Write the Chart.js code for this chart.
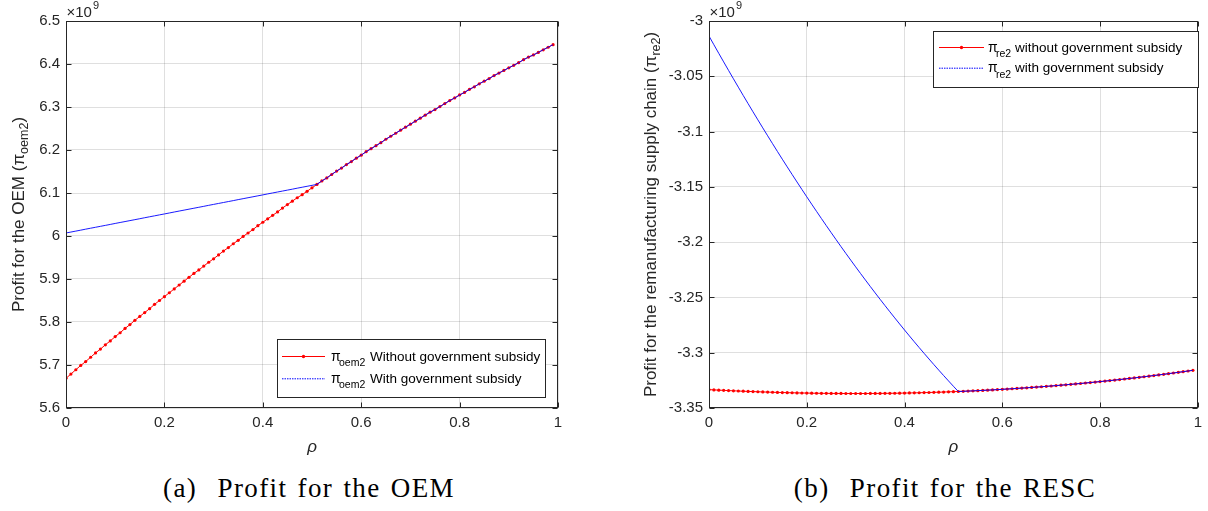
<!DOCTYPE html>
<html><head><meta charset="utf-8">
<script src="https://cdn.jsdelivr.net/npm/chart.js@4"></script>
<style>
html,body{margin:0;padding:0;background:#fff;width:1208px;height:511px;overflow:hidden;}
#wrapA{position:absolute;left:0;top:0;width:604px;height:465px;}
#wrapB{position:absolute;left:604px;top:0;width:604px;height:465px;}
.cap{position:absolute;top:473px;font-family:"Liberation Serif","Times New Roman",serif;font-size:27px;white-space:nowrap;color:#000;transform:translateX(-50%);letter-spacing:1.4px;word-spacing:2px;}
</style></head><body>
<div id="wrapA"><canvas id="cA" width="604" height="465"></canvas></div>
<div id="wrapB"><canvas id="cB" width="604" height="465"></canvas></div>
<div class="cap" style="left:309px;">(a)&nbsp; Profit for the OEM</div>
<div class="cap" style="left:945px;">(b)&nbsp; Profit for the RESC</div>
<script>
// rho values (x axis)
const rho = [0,0.01,0.02,0.03,0.04,0.05,0.06,0.07,0.08,0.09,
0.10,0.11,0.12,0.13,0.14,0.15,0.16,0.17,0.18,0.19,
0.20,0.21,0.22,0.23,0.24,0.25,0.26,0.27,0.28,0.29,
0.30,0.31,0.32,0.33,0.34,0.35,0.36,0.37,0.38,0.39,
0.40,0.41,0.42,0.43,0.44,0.45,0.46,0.47,0.48,0.49,
0.50,0.51,0.52,0.53,0.54,0.55,0.56,0.57,0.58,0.59,
0.60,0.61,0.62,0.63,0.64,0.65,0.66,0.67,0.68,0.69,
0.70,0.71,0.72,0.73,0.74,0.75,0.76,0.77,0.78,0.79,
0.80,0.81,0.82,0.83,0.84,0.85,0.86,0.87,0.88,0.89,
0.90,0.91,0.92,0.93,0.94,0.95,0.96,0.97,0.98,0.99];

// (a) OEM profit, x10^9, without subsidy
const oemWithout = [5.669,5.679,5.689,5.699,5.708,5.718,5.728,5.737,5.747,5.756,
5.766,5.775,5.785,5.794,5.804,5.813,5.822,5.831,5.841,5.850,
5.859,5.868,5.877,5.886,5.895,5.904,5.913,5.921,5.930,5.939,
5.947,5.956,5.965,5.973,5.982,5.990,5.999,6.007,6.015,6.024,
6.032,6.040,6.048,6.056,6.065,6.073,6.081,6.089,6.096,6.104,
6.112,6.120,6.128,6.135,6.143,6.151,6.158,6.166,6.173,6.181,
6.188,6.196,6.203,6.210,6.217,6.225,6.232,6.239,6.246,6.253,
6.260,6.267,6.274,6.281,6.288,6.294,6.301,6.308,6.315,6.321,
6.328,6.334,6.341,6.347,6.354,6.360,6.366,6.373,6.379,6.385,
6.391,6.397,6.403,6.410,6.416,6.421,6.427,6.433,6.439,6.445];
// with subsidy, for rho = 0 .. 0.50 (afterwards equal to the curve without subsidy)
const oemWithLow = [6.0070,6.0092,6.0114,6.0136,6.0159,6.0181,6.0203,6.0225,6.0247,6.0269,
6.0292,6.0314,6.0336,6.0358,6.0380,6.0402,6.0425,6.0447,6.0469,6.0491,
6.0513,6.0535,6.0558,6.0580,6.0602,6.0624,6.0646,6.0668,6.0690,6.0713,
6.0735,6.0757,6.0779,6.0801,6.0823,6.0846,6.0868,6.0890,6.0912,6.0934,
6.0956,6.0979,6.1001,6.1023,6.1045,6.1067,6.1089,6.1112,6.1134,6.1156,
6.1178];

// (b) RESC profit, x10^9, without subsidy
const rescWithout = [-3.33340,-3.33362,-3.33384,-3.33405,-3.33426,-3.33445,-3.33464,-3.33482,-3.33500,-3.33516,
-3.33532,-3.33548,-3.33562,-3.33576,-3.33589,-3.33601,-3.33612,-3.33623,-3.33633,-3.33642,
-3.33650,-3.33658,-3.33664,-3.33670,-3.33676,-3.33680,-3.33684,-3.33686,-3.33688,-3.33690,
-3.33690,-3.33690,-3.33688,-3.33686,-3.33683,-3.33680,-3.33675,-3.33670,-3.33664,-3.33657,
-3.33649,-3.33640,-3.33631,-3.33620,-3.33609,-3.33597,-3.33584,-3.33570,-3.33556,-3.33540,
-3.33524,-3.33507,-3.33489,-3.33470,-3.33450,-3.33429,-3.33407,-3.33385,-3.33361,-3.33337,
-3.33312,-3.33285,-3.33258,-3.33230,-3.33201,-3.33172,-3.33141,-3.33109,-3.33077,-3.33043,
-3.33009,-3.32973,-3.32937,-3.32900,-3.32862,-3.32822,-3.32782,-3.32741,-3.32699,-3.32656,
-3.32612,-3.32567,-3.32522,-3.32475,-3.32427,-3.32378,-3.32328,-3.32277,-3.32226,-3.32173,
-3.32119,-3.32064,-3.32009,-3.31952,-3.31894,-3.31835,-3.31776,-3.31715,-3.31653,-3.31590];
// with subsidy, rho = 0 .. 0.50
const rescWithLow = [-3.01360,-3.02146,-3.02926,-3.03700,-3.04468,-3.05229,-3.05984,-3.06733,-3.07475,-3.08212,
-3.08942,-3.09666,-3.10383,-3.11095,-3.11800,-3.12499,-3.13192,-3.13878,-3.14558,-3.15232,
-3.15900,-3.16562,-3.17217,-3.17866,-3.18509,-3.19145,-3.19776,-3.20400,-3.21018,-3.21629,
-3.22235,-3.22834,-3.23427,-3.24013,-3.24594,-3.25168,-3.25736,-3.26298,-3.26853,-3.27403,
-3.27946,-3.28482,-3.29013,-3.29537,-3.30055,-3.30567,-3.31073,-3.31572,-3.32065,-3.32552,
-3.33033];

const oemWith = oemWithLow.concat(oemWithout.slice(oemWithLow.length));
const rescWith = rescWithLow.concat(rescWithout.slice(rescWithLow.length));

const xTicks = [0, 0.2, 0.4, 0.6, 0.8, 1];
const oemTicks = [5.6, 6.5, 0.1];      // min, max, step
const rescTicks = [-3.35, -3.0, 0.05]; // min, max, step

const SANS = '"Liberation Sans", Arial, Helvetica, sans-serif';
const AX = '#262626';
const GRID = 'rgba(38,38,38,0.15)';

function pts(ys){ return rho.map((x,i)=>({x:x, y:ys[i]})); }

function makeDeco(opt){
  return {
    id: 'deco',
    afterDraw(chart){
      const ctx = chart.ctx, a = chart.chartArea;
      const xs = chart.scales.x, ys = chart.scales.y;
      ctx.save();
      // box
      ctx.strokeStyle = AX; ctx.lineWidth = 1;
      const L = Math.round(a.left)+0.5, R = Math.round(a.right)-0.5, T = Math.round(a.top)+0.5, B = Math.round(a.bottom)-0.5;
      ctx.strokeRect(L, T, R-L, B-T);
      // inward ticks
      ctx.beginPath();
      xs.ticks.forEach(t=>{ const p = Math.round(xs.getPixelForValue(t.value))+0.5;
        ctx.moveTo(p,B); ctx.lineTo(p,B-5); ctx.moveTo(p,T); ctx.lineTo(p,T+5); });
      ys.ticks.forEach(t=>{ const p = Math.round(ys.getPixelForValue(t.value))+0.5;
        ctx.moveTo(L,p); ctx.lineTo(L+5,p); ctx.moveTo(R,p); ctx.lineTo(R-5,p); });
      ctx.stroke();
      // x10^9
      ctx.fillStyle = AX; ctx.textBaseline = 'alphabetic'; ctx.textAlign = 'left';
      ctx.font = '15px ' + SANS;
      ctx.fillText('\u00d710', a.left + 0.5, a.top - 4.5);
      const w10 = ctx.measureText('\u00d710').width;
      ctx.font = '11px ' + SANS;
      ctx.fillText('9', a.left + 1.5 + w10, a.top - 12);
      // x title
      ctx.font = 'italic 17px ' + SANS; ctx.textAlign = 'center';
      ctx.fillText('\u03c1', (a.left + a.right)/2, 452);
      // y title (rotated)
      ctx.save();
      ctx.translate(opt.ytitleX, (a.top + a.bottom)/2);
      ctx.rotate(-Math.PI/2);
      ctx.textAlign = 'left';
      const f1 = '17px ' + SANS, f2 = '12.5px ' + SANS;
      ctx.font = f1; const wa = ctx.measureText(opt.ytitle + '(\u03c0').width;
      ctx.font = f2; const wb = ctx.measureText(opt.ysub).width;
      ctx.font = f1; const wc = ctx.measureText(')').width;
      let x0 = -(wa + wb + wc)/2;
      ctx.font = f1; ctx.fillText(opt.ytitle + '(\u03c0', x0, 0);
      ctx.font = f2; ctx.fillText(opt.ysub, x0 + wa, 4.5);
      ctx.font = f1; ctx.fillText(')', x0 + wa + wb, 0);
      ctx.restore();
      // legend
      const lg = opt.legend;
      ctx.fillStyle = '#fff';
      ctx.fillRect(lg.x, lg.y, lg.w, lg.h);
      ctx.strokeStyle = AX; ctx.lineWidth = 1;
      ctx.strokeRect(lg.x + 0.5, lg.y + 0.5, lg.w, lg.h);
      lg.rows.forEach((r, i)=>{
        const y = lg.y + lg.row0 + i*lg.dy;
        ctx.save();
        ctx.strokeStyle = r.color; ctx.lineWidth = 1;
        if (r.dash) ctx.setLineDash(r.dash);
        ctx.beginPath(); ctx.moveTo(lg.x + lg.l0, y + 0.5); ctx.lineTo(lg.x + lg.l1, y + 0.5); ctx.stroke();
        ctx.restore();
        if (r.marker){ ctx.fillStyle = r.color; ctx.beginPath(); ctx.arc(lg.x + (lg.l0+lg.l1)/2, y+0.5, 1.7, 0, Math.PI*2); ctx.fill(); }
        ctx.fillStyle = '#000'; ctx.textAlign = 'left';
        ctx.font = '14px ' + SANS;
        ctx.fillText('\u03c0', lg.x + lg.pi, y + 4.5);
        ctx.font = '10.5px ' + SANS;
        ctx.fillText(lg.sub, lg.x + lg.pi + 8, y + 10);
        ctx.font = '13.5px ' + SANS;
        ctx.fillText(r.text, lg.x + lg.tx, y + 4.5);
      });
      ctx.restore();
    }
  };
}

function makeChart(id, withData, withoutData, range, yWidth, rightPad, deco){
  const [ymin, ymax, ystep] = range;
  return new Chart(document.getElementById(id), {
    type: 'line',
    data: { datasets: [
      { label: 'with', data: pts(withData), borderColor: 'rgba(0,0,255,0.9)', borderWidth: 1, pointRadius: 0, order: 0, tension: 0 },
      { label: 'without', data: pts(withoutData), borderColor: '#ff0000', borderWidth: 1, pointRadius: 1.6, pointBorderWidth: 0, pointBackgroundColor: '#ff0000', order: 1, tension: 0 }
    ]},
    options: {
      responsive: false, animation: false, devicePixelRatio: 1,
      layout: { padding: { left: 0, top: 21, right: rightPad, bottom: 0 } },
      plugins: { legend: { display: false }, tooltip: { enabled: false } },
      scales: {
        x: { type: 'linear', min: 0, max: 1,
             afterBuildTicks: s => { s.ticks = xTicks.map(v=>({value:v})); },
             afterFit: s => { s.height = 57; },
             grid: { color: GRID, drawTicks: false, lineWidth: 1 }, border: { display: false },
             ticks: { color: AX, font: { family: SANS, size: 15 }, padding: 6, maxRotation: 0,
                      callback: v => String(+Number(v).toFixed(2)) } },
        y: { type: 'linear', min: ymin, max: ymax,
             afterBuildTicks: s => { const t=[]; const n=Math.round((ymax-ymin)/ystep); for(let i=0;i<=n;i++) t.push({value:+(ymin+i*ystep).toFixed(2)}); s.ticks=t; },
             afterFit: s => { s.width = yWidth; },
             grid: { color: GRID, drawTicks: false, lineWidth: 1 }, border: { display: false },
             ticks: { color: AX, font: { family: SANS, size: 15 }, padding: 6,
                      callback: v => String(+Number(v).toFixed(2)) } }
      }
    },
    plugins: [deco]
  });
}

makeChart('cA', oemWith, oemWithout, oemTicks, 66, 46, makeDeco({
  ytitle: 'Profit for the OEM ', ysub: 'oem2', ytitleX: 23.5,
  legend: { x: 277, y: 339, w: 268, h: 58, row0: 17, dy: 22.3, l0: 5, l1: 48, pi: 54, sub: 'oem2', tx: 93,
    rows: [ { color: '#ff0000', marker: true, text: 'Without government subsidy' },
            { color: '#0000ff', dash: [1.5, 1], text: 'With government subsidy' } ] }
}));

makeChart('cB', rescWith, rescWithout, rescTicks, 105, 7, makeDeco({
  ytitle: 'Profit for the remanufacturing supply chain ', ysub: 're2', ytitleX: 51.5,
  legend: { x: 329, y: 31, w: 265, h: 56, row0: 16, dy: 20.7, l0: 6, l1: 51, pi: 55, sub: 're2', tx: 82,
    rows: [ { color: '#ff0000', marker: true, text: 'without government subsidy' },
            { color: '#0000ff', dash: [1.5, 1], text: 'with government subsidy' } ] }
}));
</script>
</body></html>
